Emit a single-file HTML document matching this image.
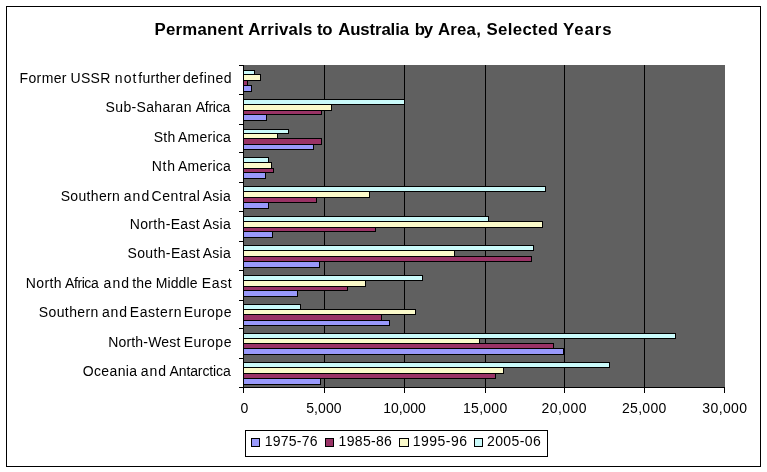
<!DOCTYPE html>
<html lang="en"><head><meta charset="utf-8"><title>Permanent Arrivals to Australia by Area, Selected Years</title>
<style>
html,body{margin:0;padding:0;background:#fff;}
body{width:767px;height:472px;position:relative;overflow:hidden;font-family:"Liberation Sans",Arial,sans-serif;font-size:14.0px;color:#000;}
div{position:absolute;box-sizing:border-box;white-space:nowrap;}
.k{background:#000;}
.bar{border:1px solid #000;}
.t{line-height:30px;height:30px;}
.h{line-height:30px;height:30px;font-size:16.8px;font-weight:bold;}
</style></head><body>
<div style="left:6px;top:6px;width:755px;height:461px;border:1px solid #000;"></div>
<!-- chart title -->
<div class="h" style="left:154.50px;top:15px;letter-spacing:0.250px;">Permanent</div>
<div class="h" style="left:248.25px;top:15px;letter-spacing:0.236px;">Arrivals</div>
<div class="h" style="left:316.90px;top:15px;letter-spacing:-0.300px;">to</div>
<div class="h" style="left:338.20px;top:15px;letter-spacing:-0.125px;">Australia</div>
<div class="h" style="left:414.75px;top:15px;letter-spacing:-1.250px;">by</div>
<div class="h" style="left:437.90px;top:15px;letter-spacing:0.250px;">Area,</div>
<div class="h" style="left:486.40px;top:15px;letter-spacing:0.371px;">Selected</div>
<div class="h" style="left:563.10px;top:15px;letter-spacing:0.900px;">Years</div>
<!-- plot area and gridlines -->
<div style="left:244px;top:65px;width:481px;height:322px;background:#606060;"></div>
<div class="k" style="left:324px;top:65px;width:1px;height:322px;"></div>
<div class="k" style="left:404px;top:65px;width:1px;height:322px;"></div>
<div class="k" style="left:485px;top:65px;width:1px;height:322px;"></div>
<div class="k" style="left:564px;top:65px;width:1px;height:322px;"></div>
<div class="k" style="left:644px;top:65px;width:1px;height:322px;"></div>
<!-- bars -->
<div class="bar" style="left:243px;top:70px;width:12px;height:5px;background:#cafafa;"></div>
<div class="bar" style="left:243px;top:74px;width:18px;height:7px;background:#fbfaca;"></div>
<div class="bar" style="left:243px;top:80px;width:5px;height:6px;background:#993366;"></div>
<div class="bar" style="left:243px;top:85px;width:9px;height:7px;background:#9999fb;"></div>
<div class="bar" style="left:243px;top:99px;width:162px;height:6px;background:#cafafa;"></div>
<div class="bar" style="left:243px;top:104px;width:89px;height:7px;background:#fbfaca;"></div>
<div class="bar" style="left:243px;top:110px;width:79px;height:5px;background:#993366;"></div>
<div class="bar" style="left:243px;top:114px;width:24px;height:7px;background:#9999fb;"></div>
<div class="bar" style="left:243px;top:129px;width:46px;height:5px;background:#cafafa;"></div>
<div class="bar" style="left:243px;top:133px;width:35px;height:6px;background:#fbfaca;"></div>
<div class="bar" style="left:243px;top:138px;width:79px;height:7px;background:#993366;"></div>
<div class="bar" style="left:243px;top:144px;width:71px;height:6px;background:#9999fb;"></div>
<div class="bar" style="left:243px;top:157px;width:26px;height:6px;background:#cafafa;"></div>
<div class="bar" style="left:243px;top:162px;width:29px;height:7px;background:#fbfaca;"></div>
<div class="bar" style="left:243px;top:168px;width:31px;height:5px;background:#993366;"></div>
<div class="bar" style="left:243px;top:172px;width:23px;height:7px;background:#9999fb;"></div>
<div class="bar" style="left:243px;top:186px;width:303px;height:6px;background:#cafafa;"></div>
<div class="bar" style="left:243px;top:191px;width:127px;height:7px;background:#fbfaca;"></div>
<div class="bar" style="left:243px;top:197px;width:74px;height:6px;background:#993366;"></div>
<div class="bar" style="left:243px;top:202px;width:26px;height:7px;background:#9999fb;"></div>
<div class="bar" style="left:243px;top:216px;width:246px;height:6px;background:#cafafa;"></div>
<div class="bar" style="left:243px;top:221px;width:300px;height:7px;background:#fbfaca;"></div>
<div class="bar" style="left:243px;top:227px;width:133px;height:5px;background:#993366;"></div>
<div class="bar" style="left:243px;top:231px;width:30px;height:7px;background:#9999fb;"></div>
<div class="bar" style="left:243px;top:245px;width:291px;height:6px;background:#cafafa;"></div>
<div class="bar" style="left:243px;top:250px;width:212px;height:7px;background:#fbfaca;"></div>
<div class="bar" style="left:243px;top:256px;width:289px;height:6px;background:#993366;"></div>
<div class="bar" style="left:243px;top:261px;width:77px;height:7px;background:#9999fb;"></div>
<div class="bar" style="left:243px;top:275px;width:180px;height:6px;background:#cafafa;"></div>
<div class="bar" style="left:243px;top:280px;width:123px;height:7px;background:#fbfaca;"></div>
<div class="bar" style="left:243px;top:286px;width:105px;height:5px;background:#993366;"></div>
<div class="bar" style="left:243px;top:290px;width:55px;height:7px;background:#9999fb;"></div>
<div class="bar" style="left:243px;top:304px;width:58px;height:6px;background:#cafafa;"></div>
<div class="bar" style="left:243px;top:309px;width:173px;height:6px;background:#fbfaca;"></div>
<div class="bar" style="left:243px;top:314px;width:139px;height:7px;background:#993366;"></div>
<div class="bar" style="left:243px;top:320px;width:147px;height:6px;background:#9999fb;"></div>
<div class="bar" style="left:243px;top:333px;width:433px;height:6px;background:#cafafa;"></div>
<div class="bar" style="left:243px;top:338px;width:237px;height:6px;background:#fbfaca;"></div>
<div class="bar" style="left:243px;top:343px;width:311px;height:6px;background:#993366;"></div>
<div class="bar" style="left:243px;top:348px;width:321px;height:7px;background:#9999fb;"></div>
<div class="bar" style="left:243px;top:362px;width:367px;height:6px;background:#cafafa;"></div>
<div class="bar" style="left:243px;top:367px;width:261px;height:7px;background:#fbfaca;"></div>
<div class="bar" style="left:243px;top:373px;width:253px;height:6px;background:#993366;"></div>
<div class="bar" style="left:243px;top:378px;width:78px;height:7px;background:#9999fb;"></div>
<!-- axes and ticks -->
<div class="k" style="left:243px;top:65px;width:1px;height:323px;"></div>
<div class="k" style="left:243px;top:387px;width:482px;height:1px;"></div>
<div class="k" style="left:239px;top:65px;width:5px;height:1px;"></div>
<div class="k" style="left:239px;top:94px;width:5px;height:1px;"></div>
<div class="k" style="left:239px;top:124px;width:5px;height:1px;"></div>
<div class="k" style="left:239px;top:152px;width:5px;height:1px;"></div>
<div class="k" style="left:239px;top:182px;width:5px;height:1px;"></div>
<div class="k" style="left:239px;top:211px;width:5px;height:1px;"></div>
<div class="k" style="left:239px;top:241px;width:5px;height:1px;"></div>
<div class="k" style="left:239px;top:270px;width:5px;height:1px;"></div>
<div class="k" style="left:239px;top:300px;width:5px;height:1px;"></div>
<div class="k" style="left:239px;top:328px;width:5px;height:1px;"></div>
<div class="k" style="left:239px;top:358px;width:5px;height:1px;"></div>
<div class="k" style="left:239px;top:387px;width:5px;height:1px;"></div>
<div class="k" style="left:243px;top:387px;width:1px;height:6px;"></div>
<div class="k" style="left:324px;top:387px;width:1px;height:6px;"></div>
<div class="k" style="left:404px;top:387px;width:1px;height:6px;"></div>
<div class="k" style="left:485px;top:387px;width:1px;height:6px;"></div>
<div class="k" style="left:564px;top:387px;width:1px;height:6px;"></div>
<div class="k" style="left:644px;top:387px;width:1px;height:6px;"></div>
<div class="k" style="left:724px;top:387px;width:1px;height:6px;"></div>
<!-- category labels -->
<div class="t" style="left:19.50px;top:63px;letter-spacing:0.380px;">Former</div>
<div class="t" style="left:70.50px;top:63px;letter-spacing:0.300px;">USSR</div>
<div class="t" style="left:114.80px;top:63px;letter-spacing:1.050px;">not</div>
<div class="t" style="left:138.30px;top:63px;letter-spacing:0.283px;">further</div>
<div class="t" style="left:182.90px;top:63px;letter-spacing:0.433px;">defined</div>
<div class="t" style="left:105.60px;top:92px;letter-spacing:0.340px;">Sub-Saharan</div>
<div class="t" style="left:195.70px;top:92px;letter-spacing:-0.240px;">Africa</div>
<div class="t" style="left:153.70px;top:122px;letter-spacing:0.250px;">Sth</div>
<div class="t" style="left:178.00px;top:122px;letter-spacing:0.250px;">America</div>
<div class="t" style="left:151.70px;top:151px;letter-spacing:0.750px;">Nth</div>
<div class="t" style="left:178.00px;top:151px;letter-spacing:0.250px;">America</div>
<div class="t" style="left:60.70px;top:181px;letter-spacing:0.329px;">Southern</div>
<div class="t" style="left:123.70px;top:181px;letter-spacing:1.150px;">and</div>
<div class="t" style="left:151.60px;top:181px;letter-spacing:0.533px;">Central</div>
<div class="t" style="left:202.70px;top:181px;letter-spacing:0.267px;">Asia</div>
<div class="t" style="left:129.80px;top:209px;letter-spacing:0.322px;">North-East</div>
<div class="t" style="left:202.70px;top:209px;letter-spacing:0.267px;">Asia</div>
<div class="t" style="left:127.50px;top:238px;letter-spacing:0.356px;">South-East</div>
<div class="t" style="left:202.70px;top:238px;letter-spacing:0.267px;">Asia</div>
<div class="t" style="left:25.80px;top:268px;letter-spacing:0.350px;">North</div>
<div class="t" style="left:65.10px;top:268px;letter-spacing:-0.440px;">Africa</div>
<div class="t" style="left:103.60px;top:268px;letter-spacing:1.050px;">and</div>
<div class="t" style="left:132.20px;top:268px;letter-spacing:0.250px;">the</div>
<div class="t" style="left:155.70px;top:268px;letter-spacing:0.120px;">Middle</div>
<div class="t" style="left:201.70px;top:268px;letter-spacing:0.667px;">East</div>
<div class="t" style="left:38.70px;top:297px;letter-spacing:0.414px;">Southern</div>
<div class="t" style="left:101.90px;top:297px;letter-spacing:0.850px;">and</div>
<div class="t" style="left:129.80px;top:297px;letter-spacing:0.567px;">Eastern</div>
<div class="t" style="left:183.70px;top:297px;letter-spacing:0.520px;">Europe</div>
<div class="t" style="left:108.20px;top:327px;letter-spacing:0.178px;">North-West</div>
<div class="t" style="left:183.70px;top:327px;letter-spacing:0.520px;">Europe</div>
<div class="t" style="left:82.70px;top:356px;letter-spacing:0.383px;">Oceania</div>
<div class="t" style="left:140.80px;top:356px;letter-spacing:0.950px;">and</div>
<div class="t" style="left:169.50px;top:356px;letter-spacing:-0.111px;">Antarctica</div>
<!-- value axis labels -->
<div class="t" style="left:240.55px;top:393px;">0</div>
<div class="t" style="left:306.20px;top:393px;letter-spacing:0.100px;">5,000</div>
<div class="t" style="left:383.30px;top:393px;letter-spacing:-0.080px;">10,000</div>
<div class="t" style="left:463.00px;top:393px;letter-spacing:0.280px;">15,000</div>
<div class="t" style="left:541.40px;top:393px;letter-spacing:0.480px;">20,000</div>
<div class="t" style="left:622.00px;top:393px;letter-spacing:0.300px;">25,000</div>
<div class="t" style="left:702.30px;top:393px;letter-spacing:0.380px;">30,000</div>
<!-- legend -->
<div style="left:245px;top:430px;width:303px;height:27px;border:1px solid #000;background:#fff;"></div>
<div class="bar" style="left:251px;top:438px;width:9px;height:9px;background:#9999fb;"></div>
<div class="t" style="left:264.80px;top:426px;letter-spacing:0.217px;">1975-76</div>
<div class="bar" style="left:325px;top:438px;width:9px;height:9px;background:#993366;"></div>
<div class="t" style="left:338.60px;top:426px;letter-spacing:0.317px;">1985-86</div>
<div class="bar" style="left:399px;top:438px;width:10px;height:9px;background:#fbfaca;"></div>
<div class="t" style="left:412.75px;top:426px;letter-spacing:0.475px;">1995-96</div>
<div class="bar" style="left:474px;top:438px;width:9px;height:9px;background:#cafafa;"></div>
<div class="t" style="left:487.00px;top:426px;letter-spacing:0.383px;">2005-06</div>
</body></html>
